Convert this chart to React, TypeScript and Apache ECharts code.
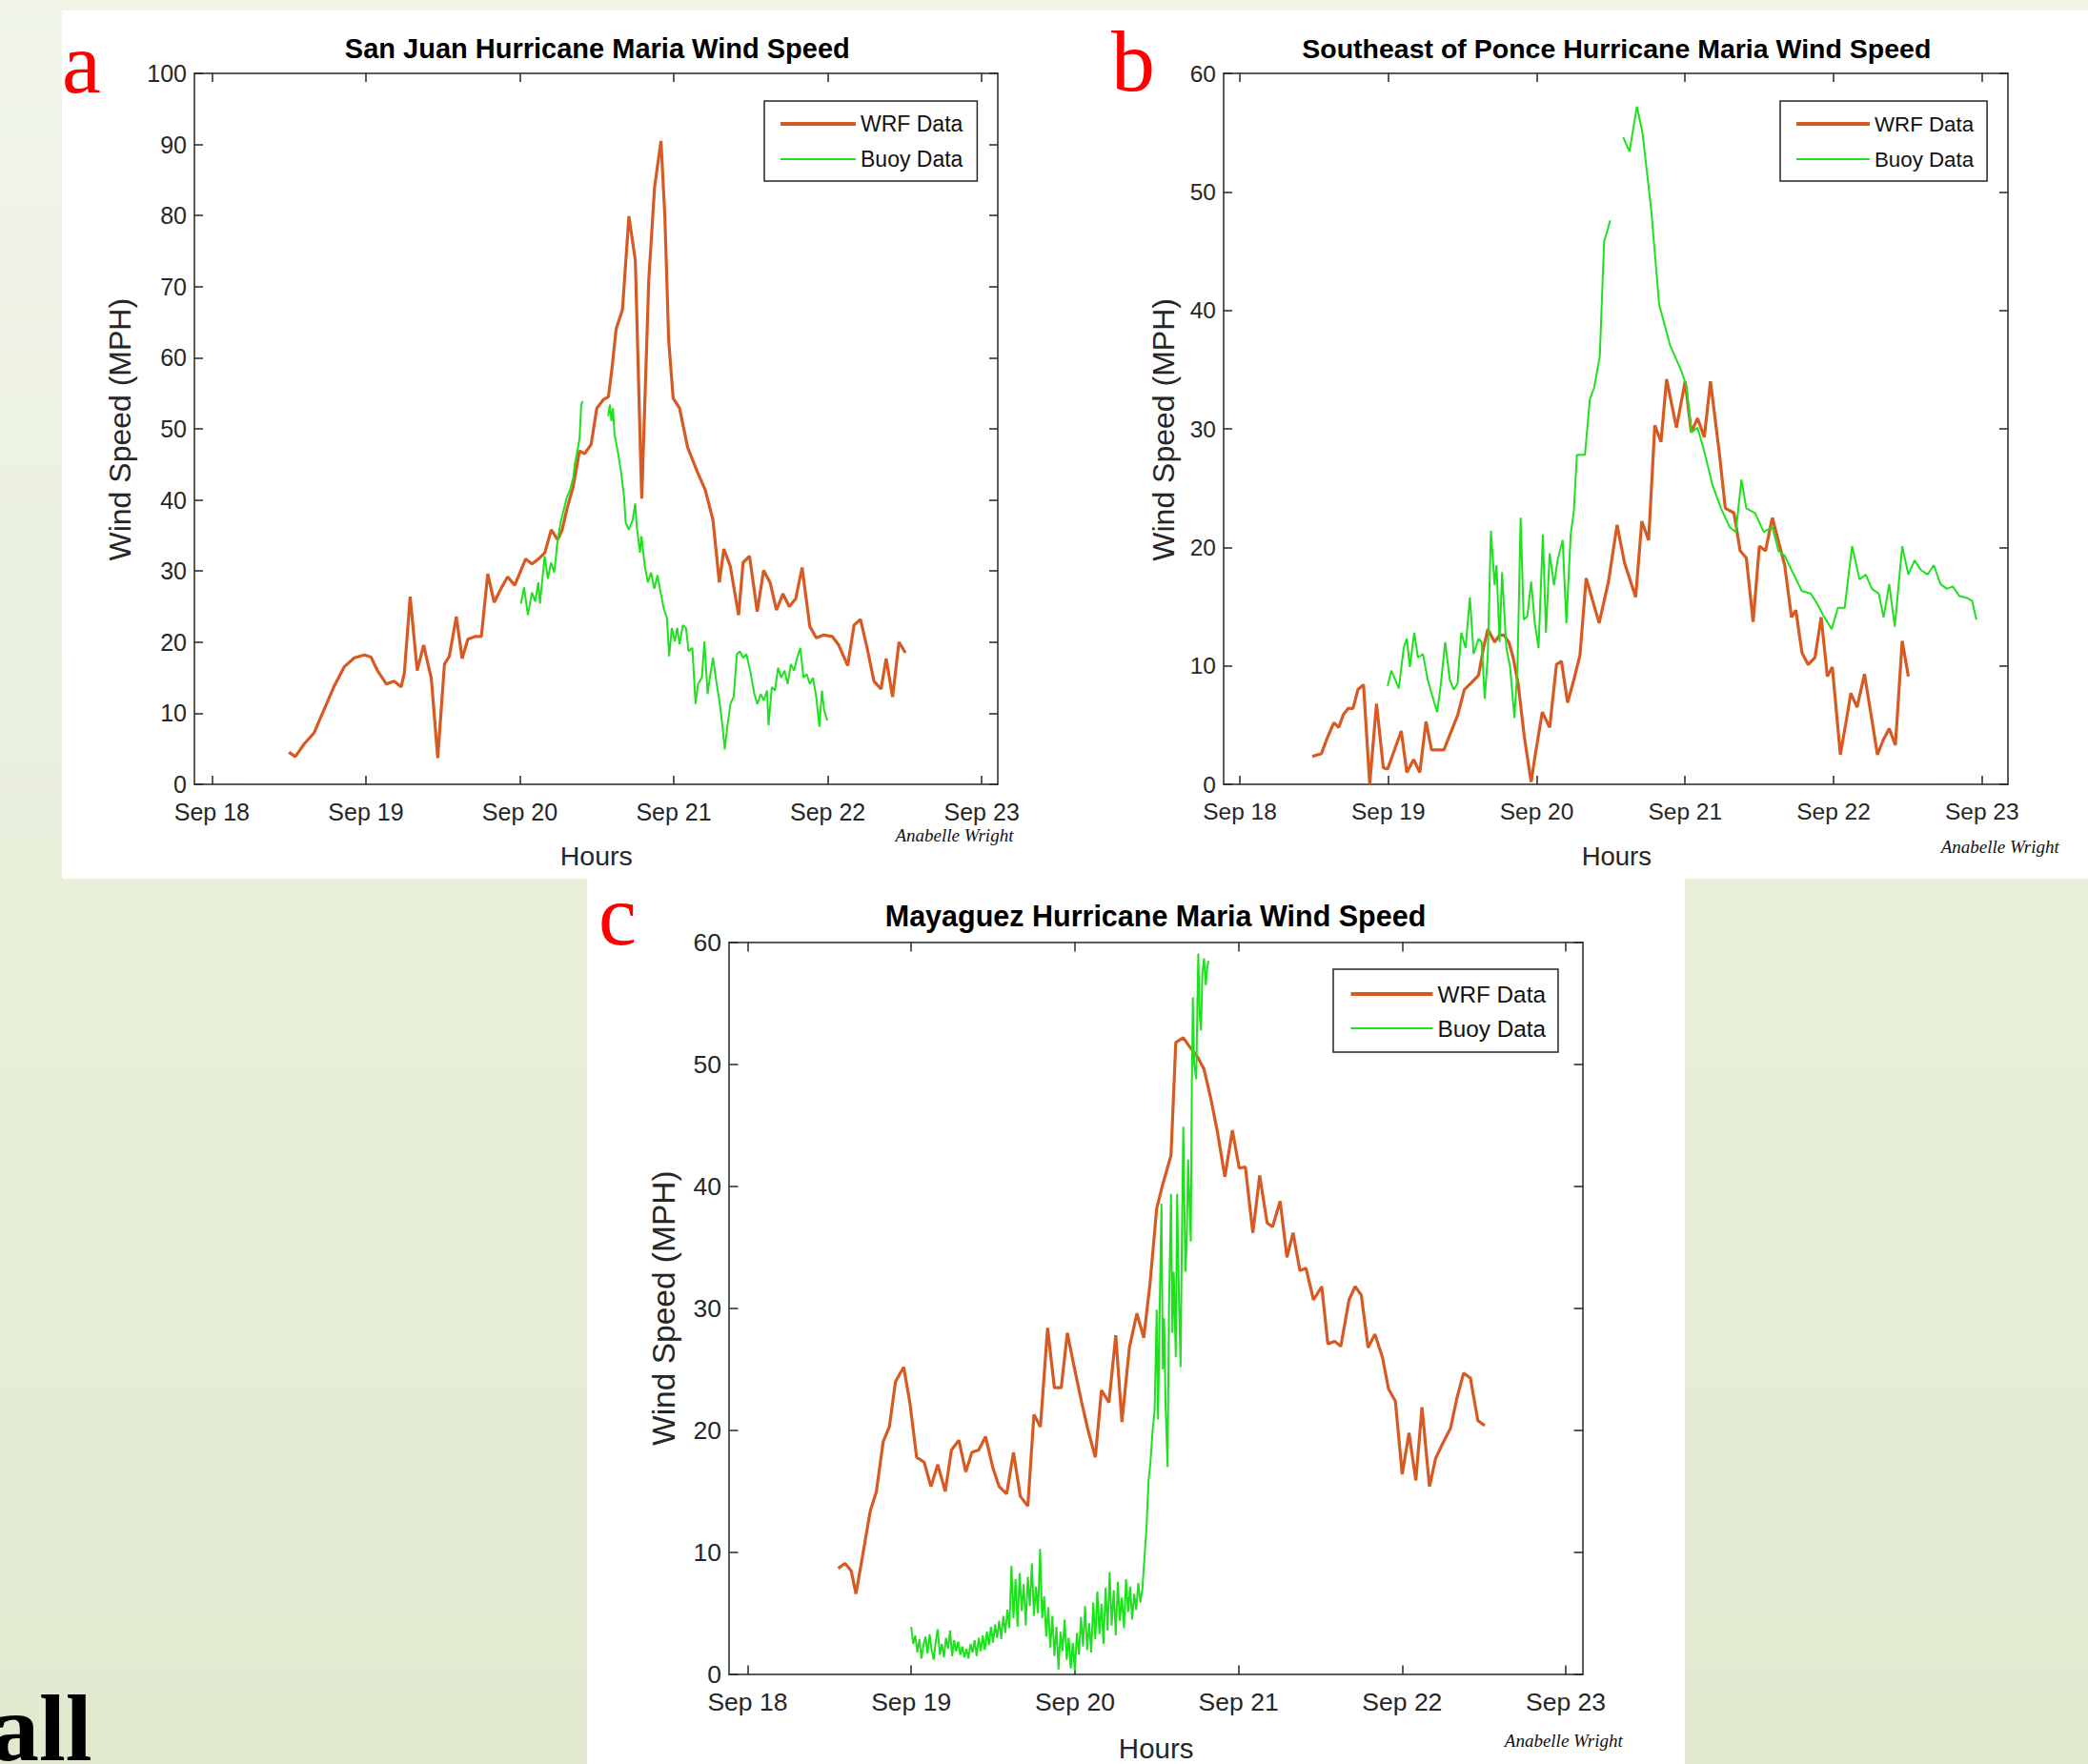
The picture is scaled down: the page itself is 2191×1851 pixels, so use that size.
import { useEffect, useRef } from 'react';
import * as echarts from 'echarts';

const W = 2191;
const H = 1851;
const SANS = '"Liberation Sans", Arial, Helvetica, sans-serif';
const SERIF = '"Liberation Serif", "Times New Roman", serif';
const ORANGE = '#d75a22';
const GREEN = '#1ee11e';
const AXIS = '#262626';

// x values are hours since Sep 18 00:00
const dayTicks = [0, 24, 48, 72, 96, 120];
const dayLabels = ['Sep 18', 'Sep 19', 'Sep 20', 'Sep 21', 'Sep 22', 'Sep 23'];
const seriesNames = ['WRF Data', 'Buoy Data'];

const sanJuanWrf = [
  [12, 4.5], [13, 3.9], [14.4, 5.7], [15.9, 7.2], [19, 13.7], [20.6, 16.5], [22.2, 17.8], [23.75, 18.2],
  [24.8, 17.9], [25.8, 16], [27.2, 14.1], [28.4, 14.5], [29.5, 13.7], [30, 15.7], [30.9, 26.4], [32, 16],
  [33, 19.6], [34.2, 14.9], [35.2, 3.7], [36.25, 16.9], [37, 18], [38.1, 23.6], [39, 17.7], [39.9, 20.4],
  [41.1, 20.8], [42, 20.8], [43, 29.6], [44, 25.6], [45.1, 27.6], [46.1, 29.2], [47.2, 28], [48.9, 31.7],
  [49.9, 31], [50.9, 31.7], [51.9, 32.6], [52.9, 35.8], [53.9, 34.4], [54.6, 35.8], [55.3, 38.6], [56.3, 41.8],
  [57.3, 46.9], [58.1, 46.5], [59.1, 47.8], [60, 52.9], [61, 54.1], [61.8, 54.5], [62.3, 58], [63, 64],
  [64, 66.8], [65, 79.9], [66, 73.7], [67, 40.2], [68.1, 71], [69, 84], [70, 90.5], [70.6, 80],
  [71.2, 62.5], [71.9, 54.3], [72.9, 52.9], [74.15, 47.4], [75.6, 44.1], [76.9, 41.4], [78.1, 37.2], [79.1, 28.4],
  [79.8, 33.1], [80.8, 30.7], [82.1, 23.8], [82.8, 31.2], [83.8, 32.1], [85, 24.3], [86, 30.1], [87, 28.4],
  [88, 24.5], [89, 26.8], [90, 25], [91, 26.1], [92, 30.5], [93.2, 22.2], [94.2, 20.6], [95.4, 21],
  [96.7, 20.8], [97.7, 19.6], [99.1, 16.7], [100.1, 22.4], [101.1, 23.2], [102.2, 18.9], [103.2, 14.5], [104.3, 13.4],
  [105.1, 17.7], [106.1, 12.3], [107.1, 20], [108.1, 18.5],
];

const sanJuanBuoy = [
  [48.16, 25.4], [48.66, 27.7], [49.25, 23.8], [49.89, 27.0], [50.39, 25.7], [50.88, 28.4], [51.13, 25.4],
  [51.87, 32.1], [52.37, 28.9], [52.86, 31.2], [53.36, 29.8], [53.85, 34.0], [54.35, 36.8], [54.84, 38.6],
  [55.34, 40.4], [55.83, 41.4], [56.33, 43.2], [56.58, 45.1], [57.07, 47.4], [57.32, 48.8], [57.57, 53.4],
  [57.81, 53.9], [59.8, null],
  [61.77, 51.8], [62.02, 53.4], [62.27, 51.1], [62.52, 52.9], [62.76, 49.2], [63.26, 46.9], [63.75, 44.1],
  [64.25, 40.4], [64.5, 36.8], [64.99, 35.8], [65.59, 37.2], [65.98, 39.5], [66.23, 36.3], [66.72, 32.6],
  [66.97, 34.9], [67.47, 30.7], [67.96, 28.4], [68.46, 29.8], [68.95, 27.5], [69.45, 29.4], [69.94, 27.0],
  [70.44, 24.7], [70.93, 23.4], [71.28, 18.0], [71.68, 22.0], [72.17, 20.1], [72.52, 22.0], [72.91, 19.7],
  [73.41, 22.4], [73.9, 22.0], [74.3, 18.7], [74.89, 19.2], [75.39, 11.3], [75.78, 14.1], [76.38, 15.0],
  [76.77, 20.1], [77.27, 12.7], [77.61, 15.0], [78.11, 17.8], [78.6, 14.6], [79.1, 11.8], [79.6, 8.1],
  [79.94, 4.9], [80.34, 8.1], [80.83, 11.3], [81.33, 12.3], [81.82, 18.3], [82.32, 18.7], [82.81, 17.8],
  [83.31, 18.3], [83.9, 16.0], [84.55, 12.7], [85.04, 11.3], [85.54, 12.7], [86.03, 11.8], [86.53, 13.2],
  [86.77, 8.3], [87.27, 13.7], [87.76, 13.2], [88.26, 16.4], [88.75, 15.0], [89.25, 16.0], [89.74, 14.1],
  [90.24, 16.9], [90.73, 16.0], [91.23, 17.8], [91.72, 19.2], [92.22, 15.0], [92.71, 15.5], [93.21, 14.1],
  [93.7, 15.0], [94.2, 12.3], [94.69, 8.1], [95.09, 13.2], [95.44, 10.4], [95.93, 9.0],
];

const ponceWrf = [
  [11.7, 2.35], [13.2, 2.6], [14.2, 4.0], [15.2, 5.2], [16.0, 4.8], [16.75, 5.9], [17.5, 6.4], [18.3, 6.4],
  [19.1, 8.0], [20.0, 8.4], [21.0, 0], [22.1, 6.8], [23.2, 1.4], [23.9, 1.3], [25.0, 2.9], [26.1, 4.5],
  [27.0, 1.0], [28.1, 2.1], [29.1, 1.0], [30.1, 5.3], [31.0, 2.9], [33.0, 2.9], [34.2, 4.5], [35.2, 5.8],
  [36.3, 8.0], [37.3, 8.5], [38.6, 9.2], [39.4, 11.5], [40.1, 13.1], [41.2, 12.0], [42.0, 12.6], [42.7, 12.6],
  [43.5, 12.0], [44.2, 10.7], [45.0, 8.5], [46.0, 4.0], [47.1, 0.2], [47.8, 2.6], [48.9, 6.1], [50.1, 4.8],
  [51.2, 10.1], [52.0, 10.4], [53.0, 6.9], [54.0, 8.8], [55.0, 10.9], [56.0, 17.4], [58.1, 13.6], [59.6, 17.1],
  [61.0, 21.9], [62.2, 18.7], [64.0, 15.8], [65.0, 22.2], [66.1, 20.6], [67.1, 30.3], [68.1, 28.9], [69.0, 34.2],
  [70.6, 30.1], [72.0, 34.0], [73.0, 29.7], [74.0, 30.9], [75.1, 29.3], [76.1, 34.0], [77.5, 28.1], [78.5, 23.3],
  [79.9, 22.9], [80.9, 19.7], [81.9, 19.1], [83.0, 13.7], [84.0, 20.1], [85.0, 19.7], [86.1, 22.5], [87.1, 20.5],
  [88.1, 18.5], [89.2, 14.1], [89.9, 14.7], [90.9, 11.1], [91.9, 10.1], [93.0, 10.7], [94.0, 14.1], [95.0, 9.1],
  [95.8, 9.9], [97.1, 2.5], [98.1, 5.5], [98.8, 7.7], [99.8, 6.5], [101.0, 9.3], [102.0, 6.1], [103.1, 2.5],
  [104.0, 3.7], [105.0, 4.7], [106.0, 3.3], [107.1, 12.1], [108.1, 9.1],
];

const ponceBuoy = [
  [23.9, 8.3], [24.5, 9.6], [25.7, 8.1], [26.5, 11.5], [27.0, 12.3], [27.5, 9.9], [28.2, 12.8], [28.8, 10.7],
  [29.6, 11.0], [30.4, 8.8], [31.1, 7.5], [31.9, 6.1], [32.4, 8.0], [33.2, 12.0], [33.96, 8.8], [34.6, 8.0],
  [35.2, 8.5], [35.8, 12.8], [36.5, 11.5], [37.2, 15.8], [37.8, 11.0], [38.6, 12.3], [39.1, 12.0], [39.6, 7.2],
  [40.1, 11.0], [40.6, 21.4], [41.2, 16.8], [41.5, 18.5], [42.0, 12.0], [42.4, 17.9], [43.1, 11.5], [43.7, 9.9],
  [44.4, 5.6], [44.9, 9.9], [45.4, 22.5], [45.9, 13.9], [46.5, 14.2], [47.1, 17.1], [47.7, 13.6], [48.3, 11.5],
  [49.0, 21.1], [49.5, 12.8], [50.1, 19.5], [50.8, 16.8], [51.4, 19.0], [52.2, 20.6], [52.8, 13.6], [53.5, 21.1],
  [54.0, 23.0], [54.5, 27.8], [55.8, 27.8], [56.6, 32.5], [57.3, 33.5], [58.2, 36.1], [58.9, 45.8], [59.9, 47.6],
  [61.0, null],
  [62.0, 54.6], [63.0, 53.4], [64.2, 57.2], [65.1, 55.0], [66.5, 48.6], [67.8, 40.5], [69.6, 37.0], [71.3, 35.0],
  [72.2, 33.7], [73.0, 29.7], [74.0, 30.1], [75.1, 28.1], [76.4, 25.3], [77.8, 23.3], [79.2, 21.7], [80.2, 21.3],
  [81.1, 25.7], [81.9, 23.3], [83.3, 22.9], [84.7, 21.3], [86.1, 21.7], [87.1, 19.7], [88.1, 19.3], [89.2, 18.1],
  [90.9, 16.3], [92.3, 16.1], [93.3, 15.3], [94.3, 14.3], [95.7, 13.1], [96.7, 14.9], [97.8, 14.9], [99.0, 20.1],
  [100.2, 17.3], [101.2, 17.7], [102.2, 16.5], [103.3, 16.1], [104.1, 14.1], [105.0, 16.9], [105.9, 13.3],
  [107.1, 20.1], [108.1, 17.7], [109.1, 18.9], [110.1, 18.1], [111.2, 17.7], [112.2, 18.5], [113.3, 16.9],
  [114.3, 16.5], [115.3, 16.7], [116.3, 15.9], [117.7, 15.7], [118.4, 15.5], [119.1, 13.9],
];

const mayaguezWrf = [
  [13.3, 8.7], [14.3, 9.1], [15.2, 8.5], [15.9, 6.6], [16.8, 9.5], [18.0, 13.4], [18.9, 15.0], [19.9, 19.1],
  [20.8, 20.3], [21.7, 24.0], [22.9, 25.2], [23.8, 22.3], [24.8, 17.8], [25.9, 17.4], [26.9, 15.4], [27.9, 17.2],
  [29.0, 15.0], [29.9, 18.4], [31.0, 19.2], [32.0, 16.6], [32.9, 18.2], [33.9, 18.4], [34.9, 19.5], [35.95, 17.0],
  [36.9, 15.4], [38.0, 14.8], [39.0, 18.2], [40.0, 14.6], [41.1, 13.8], [42.0, 21.3], [42.95, 20.3], [44.0, 28.4],
  [45.0, 23.5], [46.0, 23.5], [46.9, 28.0], [47.9, 25.2], [49.0, 22.3], [49.9, 20.1], [51.0, 17.8], [51.9, 23.3],
  [53.0, 22.3], [54.0, 27.8], [54.9, 20.7], [56.0, 26.8], [57.1, 29.6], [58.1, 27.6], [59.0, 31.9], [60.0, 38.2],
  [60.9, 40.2], [62.1, 42.55], [62.8, 51.8], [63.9, 52.2], [64.9, 51.4], [66.0, 50.6], [66.95, 49.6], [67.9, 47.3],
  [68.9, 44.5], [70.0, 40.8], [71.1, 44.6], [72.1, 41.5], [73.0, 41.6], [74.1, 36.2], [75.1, 40.9], [76.2, 37.0],
  [77.0, 36.7], [78.1, 38.8], [79.1, 34.2], [80.0, 36.2], [81.0, 33.1], [81.9, 33.3], [83.0, 30.7], [84.2, 31.8],
  [85.1, 27.1], [86.1, 27.3], [87.0, 26.9], [88.2, 30.7], [89.1, 31.8], [90.0, 31.1], [91.0, 26.8], [92.0, 27.9],
  [93.1, 26.0], [94.0, 23.4], [95.0, 22.4], [96.0, 16.4], [97.0, 19.8], [98.0, 15.9], [98.9, 21.9], [100.0, 15.4],
  [100.9, 17.7], [102.0, 19.0], [103.1, 20.2], [104.0, 22.6], [105.0, 24.7], [106.0, 24.3], [107.1, 20.8], [108.1, 20.4],
];

const mayaguezBuoy = [
  [24.0, 3.9], [24.3, 2.5], [24.6, 3.2], [24.9, 1.8], [25.2, 2.9], [25.5, 1.3], [25.8, 2.4], [26.1, 3.1],
  [26.4, 1.7], [26.7, 3.3], [27.0, 2.0], [27.3, 1.2], [27.6, 2.7], [27.9, 3.7], [28.2, 1.6], [28.5, 2.5],
  [28.8, 1.4], [29.1, 3.0], [29.4, 2.1], [29.7, 3.6], [30.0, 1.5], [30.3, 2.8], [30.6, 1.9], [30.9, 2.7],
  [31.2, 1.6], [31.5, 2.3], [31.8, 1.4], [32.1, 2.1], [32.4, 1.3], [32.7, 2.5], [33.0, 1.8], [33.3, 2.8],
  [33.6, 1.5], [33.9, 3.0], [34.2, 1.9], [34.5, 3.2], [34.8, 2.0], [35.1, 3.5], [35.4, 2.4], [35.7, 3.9],
  [36.0, 2.6], [36.3, 4.1], [36.6, 3.0], [36.9, 4.4], [37.2, 2.9], [37.5, 4.8], [37.8, 3.4], [38.1, 5.3],
  [38.4, 3.8], [38.7, 8.9], [39.0, 4.6], [39.3, 7.8], [39.6, 3.9], [39.9, 8.3], [40.2, 5.2], [40.5, 7.4],
  [40.8, 4.0], [41.1, 8.0], [41.4, 5.6], [41.7, 9.1], [42.0, 4.8], [42.3, 7.2], [42.6, 5.0], [42.9, 10.3],
  [43.2, 4.6], [43.5, 6.4], [43.8, 3.1], [44.1, 5.5], [44.4, 2.2], [44.7, 4.8], [45.0, 1.5], [45.3, 3.9],
  [45.6, 0.4], [45.9, 3.5], [46.2, 1.9], [46.5, 4.5], [46.8, 1.2], [47.1, 3.0], [47.4, 0.5], [47.7, 2.6],
  [48.0, 0.3], [48.3, 3.4], [48.6, 1.6], [48.9, 4.7], [49.2, 2.3], [49.5, 5.6], [49.8, 2.0], [50.1, 4.2],
  [50.4, 1.8], [50.7, 5.9], [51.0, 2.9], [51.3, 6.8], [51.6, 3.3], [51.9, 5.8], [52.2, 2.5], [52.5, 7.1],
  [52.8, 3.6], [53.1, 8.4], [53.4, 4.0], [53.7, 6.9], [54.0, 3.2], [54.3, 7.6], [54.6, 4.4], [54.9, 6.3],
  [55.2, 3.8], [55.5, 7.8], [55.8, 5.1], [56.1, 7.2], [56.4, 4.5], [56.7, 6.6], [57.0, 5.3], [57.3, 7.5],
  [57.6, 5.9], [57.9, 7.0], [58.2, 9.5], [58.5, 12.0], [58.8, 15.8], [59.1, 17.5], [59.4, 20.0], [59.7, 21.7],
  [60.0, 29.9], [60.2, 20.9], [60.5, 32.0], [60.7, 38.6], [60.9, 25.0], [61.1, 29.2], [61.3, 22.0], [61.6, 17.0],
  [61.8, 30.0], [62.1, 39.4], [62.3, 28.0], [62.5, 33.0], [62.8, 26.0], [63.0, 39.4], [63.3, 30.0], [63.5, 25.2],
  [63.7, 36.0], [63.9, 44.9], [64.2, 33.0], [64.4, 35.1], [64.6, 42.2], [64.85, 38.0], [65.0, 35.5], [65.15, 48.0],
  [65.3, 55.5], [65.5, 50.0], [65.8, 48.8], [66.0, 56.0], [66.1, 59.1], [66.3, 54.0], [66.5, 52.8], [66.7, 57.5],
  [66.95, 58.7], [67.2, 56.5], [67.4, 57.9], [67.6, 58.5],
];

const panels = [
  {
    title: 'San Juan Hurricane Maria Wind Speed', letter: 'a', wrf: sanJuanWrf, buoy: sanJuanBuoy, yMax: 100,
    grid: { left: 204, top: 77, width: 843, height: 746 }, xMin: -2.73, xMax: 122.5,
    tickFont: 25, tickLen: 9, xMargin: 16, titleFont: 29, nameFont: 28.5, yNameFont: 32,
    titlePos: [626.8, 51], xNamePos: [625.8, 898], yNamePos: [126, 450.7], signPos: [1001.4, 876.8],
    letterPos: [65, 66], letterFont: 92,
    legend: { left: 802, top: 106, lineLen: 79, font: 23, lineHeight: 26, gap: 11, padding: [11, 15, 10, 15] },
  },
  {
    title: 'Southeast of Ponce Hurricane Maria Wind Speed', letter: 'b', wrf: ponceWrf, buoy: ponceBuoy, yMax: 60,
    grid: { left: 1284, top: 77, width: 823, height: 746 }, xMin: -2.62, xMax: 124.2,
    tickFont: 24.5, tickLen: 9, xMargin: 16, titleFont: 28.5, nameFont: 27.5, yNameFont: 32,
    titlePos: [1696.3, 51], xNamePos: [1696.3, 898], yNamePos: [1221.1, 450.9], signPos: [2098.7, 888.3],
    letterPos: [1166, 64], letterFont: 92,
    legend: { left: 1868, top: 106, lineLen: 77, font: 22.3, lineHeight: 26, gap: 11, padding: [11, 14, 10, 15] },
  },
  {
    title: 'Mayaguez Hurricane Maria Wind Speed', letter: 'c', wrf: mayaguezWrf, buoy: mayaguezBuoy, yMax: 60,
    grid: { left: 765, top: 989, width: 896, height: 768 }, xMin: -2.71, xMax: 122.5,
    tickFont: 26.5, tickLen: 9.5, xMargin: 15, titleFont: 30.5, nameFont: 29.5, yNameFont: 33.5,
    titlePos: [1212.5, 961], xNamePos: [1213.2, 1834], yNamePos: [696, 1372.7], signPos: [1640.8, 1826.2],
    letterPos: [628, 960], letterFont: 90,
    legend: { left: 1399, top: 1017, lineLen: 86, font: 24.3, lineHeight: 27, gap: 9, padding: [12.5, 13, 11.5, 16.5] },
  },
];

function text(t: string, x: number, y: number, s: any, extra: any = {}) {
  return {
    type: 'text', x, y, silent: true, z: 20, ...extra,
    style: { text: t, align: 'center', verticalAlign: 'middle', fill: AXIS, fontFamily: SANS, ...s },
  };
}

function buildOption() {
  const graphics: any[] = [
    {
      type: 'rect', silent: true, z: -100, shape: { x: 0, y: 0, width: W, height: H },
      style: {
        fill: new echarts.graphic.LinearGradient(0, 0, 0, 1, [
          { offset: 0, color: '#f1f5ea' },
          { offset: 0.5, color: '#e8efdb' },
          { offset: 1, color: '#e1eacf' },
        ]),
      },
    },
    { type: 'rect', silent: true, z: -90, shape: { x: 65, y: 11, width: W - 65, height: 911 }, style: { fill: '#ffffff' } },
    { type: 'rect', silent: true, z: -90, shape: { x: 616, y: 921, width: 1152, height: H - 921 }, style: { fill: '#ffffff' } },
    text('all', -9, 1813, { text: 'all', align: 'left', fill: '#000', fontFamily: SERIF, fontWeight: 'bold', fontSize: 100 }),
  ];
  const grids: any[] = [];
  const xAxes: any[] = [];
  const yAxes: any[] = [];
  const legends: any[] = [];
  const series: any[] = [];
  const lineStyle = { color: AXIS, width: 1.5 };

  panels.forEach((p, i) => {
    grids.push({ ...p.grid, containLabel: false, outerBoundsMode: 'none', show: false });
    const xBase = {
      type: 'value', gridIndex: i, min: p.xMin, max: p.xMax, splitLine: { show: false },
      axisLine: { show: true, onZero: false, lineStyle },
    };
    xAxes.push({
      ...xBase, position: 'bottom',
      axisTick: { show: true, inside: true, length: p.tickLen, customValues: dayTicks, lineStyle },
      axisLabel: {
        show: true, customValues: dayTicks, fontSize: p.tickFont, color: AXIS, fontFamily: SANS, margin: p.xMargin,
        formatter: (v: number) => dayLabels[dayTicks.indexOf(Math.round(v))] ?? '',
      },
    });
    xAxes.push({
      ...xBase, position: 'top',
      axisTick: { show: true, inside: true, length: p.tickLen, customValues: dayTicks, lineStyle },
      axisLabel: { show: false },
    });
    const yBase = {
      type: 'value', gridIndex: i, min: 0, max: p.yMax, interval: 10, splitLine: { show: false },
      axisLine: { show: true, onZero: false, lineStyle },
      axisTick: { show: true, inside: true, length: p.tickLen, lineStyle },
    };
    yAxes.push({
      ...yBase, position: 'left',
      axisLabel: { show: true, fontSize: p.tickFont, color: AXIS, fontFamily: SANS, margin: 8, padding: [7, 0, 0, 0] },
    });
    yAxes.push({ ...yBase, position: 'right', axisLabel: { show: false } });

    legends.push({
      data: [
        { name: seriesNames[0], lineStyle: { width: 4, color: ORANGE } },
        { name: seriesNames[1], lineStyle: { width: 2.2, color: GREEN } },
      ],
      orient: 'vertical', align: 'left', left: p.legend.left, top: p.legend.top,
      itemWidth: p.legend.lineLen, itemHeight: 14, itemGap: p.legend.gap, padding: p.legend.padding,
      borderColor: AXIS, borderWidth: 1.5, borderRadius: 0, backgroundColor: '#ffffff', selectedMode: false,
      itemStyle: { opacity: 0, borderWidth: 0 },
      textStyle: { fontSize: p.legend.font, lineHeight: p.legend.lineHeight, color: '#111', fontFamily: SANS },
    });

    series.push({
      type: 'line', name: seriesNames[0], xAxisIndex: 2 * i, yAxisIndex: 2 * i, data: p.wrf,
      symbol: 'none', showSymbol: false, z: 3, lineStyle: { color: ORANGE, width: 3.2 }, itemStyle: { color: ORANGE },
    });
    series.push({
      type: 'line', name: seriesNames[1], xAxisIndex: 2 * i, yAxisIndex: 2 * i, data: p.buoy,
      symbol: 'none', showSymbol: false, connectNulls: false, z: 4,
      lineStyle: { color: GREEN, width: 2 }, itemStyle: { color: GREEN },
    });

    graphics.push(text(p.title, p.titlePos[0], p.titlePos[1], { fill: '#000', fontWeight: 'bold', fontSize: p.titleFont }));
    graphics.push(text('Hours', p.xNamePos[0], p.xNamePos[1], { fontSize: p.nameFont }));
    graphics.push(text('Wind Speed (MPH)', p.yNamePos[0], p.yNamePos[1], { fontSize: p.yNameFont }, { rotation: Math.PI / 2 }));
    graphics.push(text('Anabelle Wright', p.signPos[0], p.signPos[1], { fill: '#111', fontFamily: SERIF, fontStyle: 'italic', fontSize: 19 }));
    graphics.push(text(p.letter, p.letterPos[0], p.letterPos[1], { align: 'left', fill: '#ff0000', fontFamily: SERIF, fontSize: p.letterFont }));
  });

  return {
    animation: false,
    textStyle: { fontFamily: SANS },
    graphic: { elements: graphics },
    grid: grids,
    xAxis: xAxes,
    yAxis: yAxes,
    legend: legends,
    series,
  };
}

export default function App() {
  const ref = useRef<HTMLDivElement>(null);
  useEffect(() => {
    document.body.style.margin = '0';
    document.body.style.overflow = 'hidden';
    const chart = echarts.init(ref.current as HTMLDivElement, null, { renderer: 'svg' });
    chart.setOption(buildOption() as any);
    return () => chart.dispose();
  }, []);
  return <div ref={ref} style={{ width: W, height: H }} />;
}
